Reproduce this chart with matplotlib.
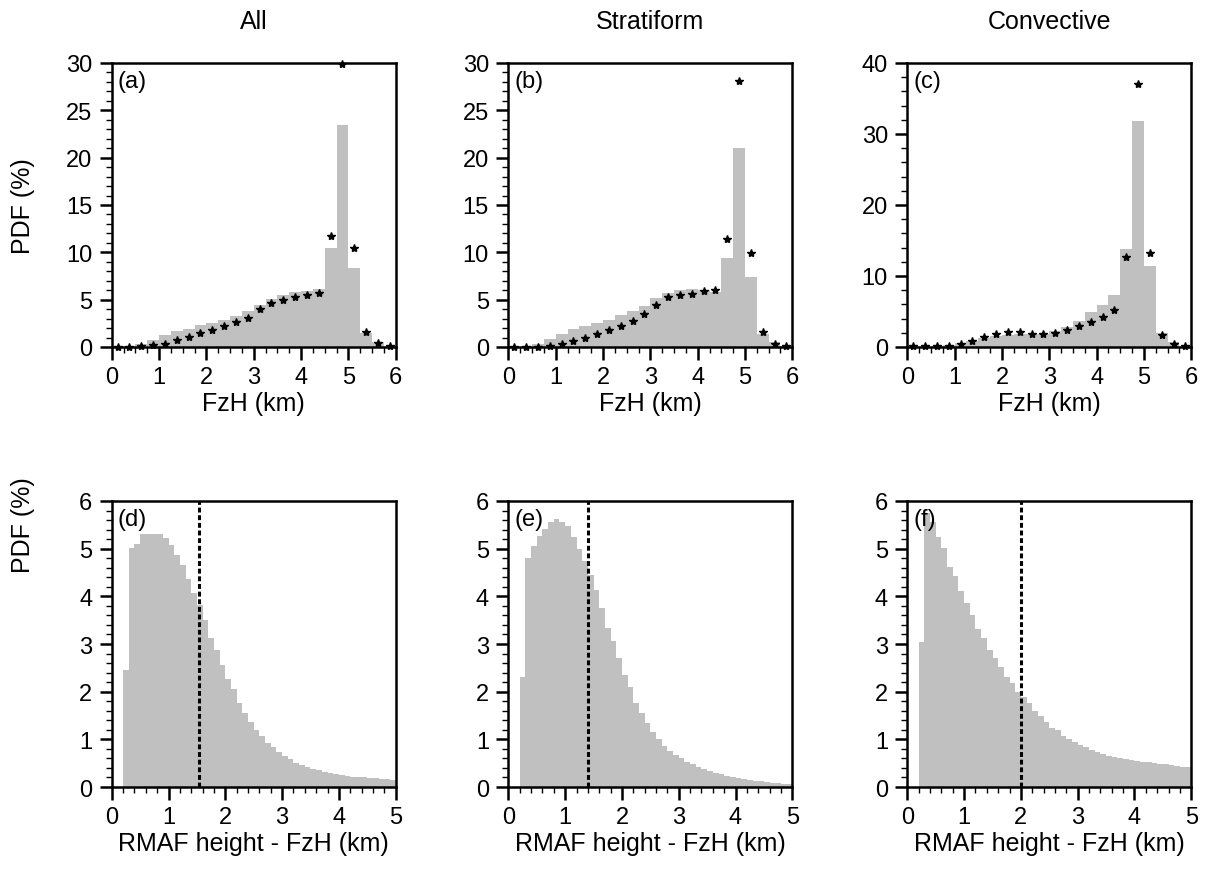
import numpy as np
import matplotlib
matplotlib.use("Agg")
import matplotlib.pyplot as plt
from matplotlib.ticker import MultipleLocator

plt.rcParams["font.family"] = ["Liberation Sans", "DejaVu Sans"]
plt.rcParams["font.size"] = 17

# FzH histograms, 0.25 km bins from 0 to 6 km
fzh_bin_width = 0.25
fzh_edges = np.arange(0, 6.0, fzh_bin_width)

all_bars = [0.03, 0.05, 0.3, 0.7, 1.3, 1.65, 1.95, 2.3, 2.55, 2.9, 3.25, 3.75,
            4.45, 5.1, 5.45, 5.8, 5.95, 6.15, 10.45, 23.5, 8.3, 1.5, 0.5, 0.15]
all_stars = [0.02, 0.02, 0.07, 0.2, 0.3, 0.7, 1.1, 1.5, 1.8, 2.2, 2.6, 3.1,
             4.0, 4.7, 5.0, 5.25, 5.5, 5.75, 11.7, 29.9, 10.5, 1.55, 0.4, 0.1]

strat_bars = [0.02, 0.05, 0.35, 0.8, 1.4, 1.85, 2.2, 2.55, 2.9, 3.35, 3.75, 4.3,
              5.15, 5.75, 6.0, 6.1, 6.0, 5.8, 9.45, 21.0, 7.35, 1.35, 0.5, 0.15]
strat_stars = [0.02, 0.02, 0.05, 0.15, 0.3, 0.65, 1.0, 1.35, 1.8, 2.2, 2.75, 3.45,
               4.45, 5.25, 5.5, 5.65, 5.9, 6.0, 11.45, 28.1, 9.9, 1.55, 0.35, 0.1]

conv_bars = [0.02, 0.05, 0.1, 0.3, 0.55, 0.9, 1.2, 1.5, 1.75, 1.85, 1.8, 1.9,
             2.2, 2.85, 3.7, 4.9, 5.9, 7.3, 13.85, 31.8, 11.4, 2.0, 0.7, 0.2]
conv_stars = [0.1, 0.1, 0.2, 0.1, 0.4, 0.85, 1.45, 1.8, 2.05, 2.05, 1.9, 1.9,
              2.0, 2.35, 2.95, 3.5, 4.2, 5.25, 12.7, 37.0, 13.25, 1.75, 0.45, 0.15]

# RMAF height - FzH histograms, 0.1 km bins from 0.2 to 5 km
rmaf_bin_width = 0.1
rmaf_edges = np.arange(0.2, 5.0 - 1e-9, rmaf_bin_width)

all_rmaf = [2.45, 5.02, 5.10, 5.30, 5.31, 5.31, 5.31, 5.22, 5.08, 4.86, 4.65, 4.37,
            4.08, 3.82, 3.50, 3.12, 2.87, 2.55, 2.27, 2.05, 1.76, 1.56, 1.36, 1.20,
            1.07, 0.93, 0.83, 0.73, 0.65, 0.58, 0.51, 0.46, 0.42, 0.38, 0.35, 0.32,
            0.30, 0.28, 0.26, 0.24, 0.22, 0.21, 0.20, 0.19, 0.18, 0.17, 0.16, 0.15]
strat_rmaf = [2.31, 4.81, 5.06, 5.27, 5.42, 5.55, 5.62, 5.56, 5.48, 5.25, 4.99, 4.74,
              4.44, 4.13, 3.76, 3.34, 3.06, 2.71, 2.36, 2.10, 1.77, 1.56, 1.34, 1.15,
              1.00, 0.86, 0.76, 0.67, 0.60, 0.53, 0.48, 0.43, 0.38, 0.34, 0.30, 0.27,
              0.24, 0.21, 0.19, 0.17, 0.15, 0.13, 0.12, 0.10, 0.09, 0.08, 0.07, 0.06]
conv_rmaf = [3.05, 5.75, 5.55, 5.25, 5.02, 4.62, 4.43, 4.11, 3.85, 3.60, 3.31, 3.13,
             2.87, 2.71, 2.52, 2.31, 2.19, 2.00, 1.89, 1.77, 1.59, 1.49, 1.36, 1.24,
             1.20, 1.08, 1.01, 0.94, 0.89, 0.83, 0.77, 0.73, 0.70, 0.66, 0.63, 0.61,
             0.59, 0.57, 0.55, 0.53, 0.52, 0.50, 0.49, 0.48, 0.46, 0.45, 0.43, 0.41]

# mean offsets (dashed lines)
rmaf_means = [1.53, 1.41, 2.01]

titles = ["All", "Stratiform", "Convective"]
top_bars = [all_bars, strat_bars, conv_bars]
top_stars = [all_stars, strat_stars, conv_stars]
top_ymax = [30, 30, 40]
top_ymajor = [5, 5, 10]
top_yminor = [1, 1, 2]
bottom_bars = [all_rmaf, strat_rmaf, conv_rmaf]
top_labels = ["(a)", "(b)", "(c)"]
bottom_labels = ["(d)", "(e)", "(f)"]

bar_color = "#c0c0c0"

fig = plt.figure(figsize=(12.13, 8.79), dpi=100)
lefts = [0.0921, 0.4191, 0.7480]
width = 0.2341


def style_axes(ax):
    for spine in ax.spines.values():
        spine.set_linewidth(1.8)
    ax.tick_params(which="major", direction="out", length=9, width=1.8,
                   top=False, right=False, pad=5)
    ax.tick_params(which="minor", direction="out", length=4.5, width=1.0,
                   top=False, right=False)


for i in range(3):
    ax = fig.add_axes([lefts[i], 0.6041, width, 0.3231])
    ax.bar(fzh_edges, top_bars[i], width=fzh_bin_width, align="edge",
           color=bar_color, linewidth=0)
    ax.plot(fzh_edges + fzh_bin_width / 2, top_stars[i], "*", color="k",
            markersize=6, clip_on=False)
    ax.set_xlim(0, 6)
    ax.set_ylim(0, top_ymax[i])
    ax.xaxis.set_major_locator(MultipleLocator(1))
    ax.xaxis.set_minor_locator(MultipleLocator(0.25))
    ax.yaxis.set_major_locator(MultipleLocator(top_ymajor[i]))
    ax.yaxis.set_minor_locator(MultipleLocator(top_yminor[i]))
    ax.set_xlabel("FzH (km)", fontsize=18, labelpad=2)
    ax.set_title(titles[i], fontsize=18, pad=25)
    ax.text(0.02, 0.975, top_labels[i], transform=ax.transAxes,
            ha="left", va="top", fontsize=17)
    if i == 0:
        ax.set_ylabel("PDF (%)", fontsize=18)
        ax.yaxis.set_label_coords(-0.27, 0.5)
    style_axes(ax)

    ax = fig.add_axes([lefts[i], 0.1035, width, 0.3254])
    ax.bar(rmaf_edges, bottom_bars[i], width=rmaf_bin_width, align="edge",
           color=bar_color, linewidth=0)
    ax.axvline(rmaf_means[i], color="k", linestyle=(0, (1.6, 0.9)), linewidth=2.2)
    ax.set_xlim(0, 5)
    ax.set_ylim(0, 6)
    ax.xaxis.set_major_locator(MultipleLocator(1))
    ax.xaxis.set_minor_locator(MultipleLocator(0.2))
    ax.yaxis.set_major_locator(MultipleLocator(1))
    ax.yaxis.set_minor_locator(MultipleLocator(0.2))
    ax.set_xlabel("RMAF height - FzH (km)", fontsize=18, labelpad=2)
    ax.text(0.02, 0.975, bottom_labels[i], transform=ax.transAxes,
            ha="left", va="top", fontsize=17)
    if i == 0:
        ax.set_ylabel("PDF (%)", fontsize=18)
        ax.yaxis.set_label_coords(-0.27, 0.92)
    style_axes(ax)

fig.savefig("out.png", dpi=100)
plt.close(fig)
